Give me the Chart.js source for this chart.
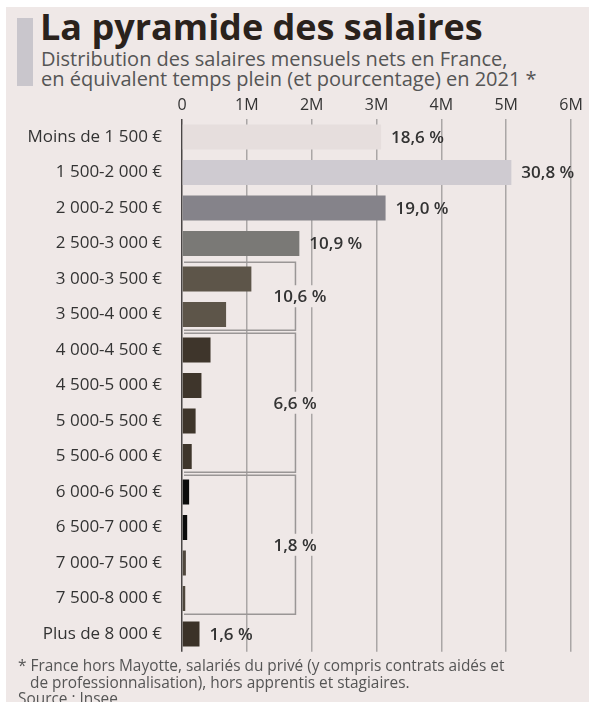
<!DOCTYPE html>
<html lang="fr">
<head>
<meta charset="utf-8">
<script src="https://cdn.jsdelivr.net/npm/chart.js@4.4.1/dist/chart.umd.min.js"></script>
<style>
  html, body { margin: 0; padding: 0; background: #fff; }
  body { width: 589px; height: 702px; position: relative; overflow: hidden; font-family: "Open Sans", sans-serif; }
  #panel { position: absolute; left: 6px; top: 7px; right: 0; bottom: 0; background: #efe8e7; }
  #bar { position: absolute; left: 17px; top: 18px; width: 16px; height: 68px; background: #c9c6cc; }
  #title { position: absolute; left: 40px; top: 7px; margin: 0; font-size: 36px; font-weight: 700; color: #2a221c; line-height: 40px; white-space: nowrap; }
  #subtitle { position: absolute; left: 41px; top: 49px; margin: 0; font-size: 20px; color: #555; line-height: 19.5px; white-space: nowrap; }
  #wrap { position: absolute; left: 0; top: 87px; width: 589px; height: 587px; }
  #note { position: absolute; left: 18px; top: 658px; margin: 0; font-size: 15.4px; line-height: 16.5px; color: #555; white-space: nowrap; }
  #note .ind { padding-left: 12px; }
</style>
</head>
<body>
<div id="panel"></div>
<div id="bar"></div>
<h1 id="title">La pyramide des salaires</h1>
<p id="subtitle">Distribution des salaires mensuels nets en France,<br>en équivalent temps plein (et pourcentage) en 2021 *</p>
<div id="wrap"><canvas id="chart"></canvas></div>
<p id="note">* France hors Mayotte, salariés du privé (y compris contrats aidés et<br><span class="ind">de professionnalisation), hors apprentis et stagiaires.</span><br>Source : Insee</p>

<script>
const categories = [
  'Moins de 1 500 €', '1 500-2 000 €', '2 000-2 500 €', '2 500-3 000 €',
  '3 000-3 500 €', '3 500-4 000 €', '4 000-4 500 €', '4 500-5 000 €',
  '5 000-5 500 €', '5 500-6 000 €', '6 000-6 500 €', '6 500-7 000 €',
  '7 000-7 500 €', '7 500-8 000 €', 'Plus de 8 000 €'
];
// salaried people per bracket
const employees = [
  3070000, 5080000, 3140000, 1810000,
  1070000, 680000, 440000, 300000,
  210000, 150000, 110000, 80000,
  60000, 50000, 270000
];
const barColors = [
  '#e6dedd', '#cfcbd1', '#85838a', '#7a7976',
  '#5d5549', '#5d5549', '#3e352b', '#3e352b',
  '#3e352b', '#3e352b', '#0b0b0b', '#0b0b0b',
  '#4f473d', '#4f473d', '#3b3228'
];
// percentage shown next to single bars
const barLabels = ['18,6 %', '30,8 %', '19,0 %', '10,9 %', null, null, null, null, null, null, null, null, null, null, '1,6 %'];
// bracketed groups of bars
const groupFrom = [4, 6, 10];
const groupTo = [5, 9, 13];
const groupLabels = ['10,6 %', '6,6 %', '1,8 %'];
const groupEdge = 1750000;
const xTicks = [0, 1000000, 2000000, 3000000, 4000000, 5000000, 6000000];

const labelPlugin = {
  id: 'labels',
  afterDatasetsDraw(chart) {
    const ctx = chart.ctx;
    const meta = chart.getDatasetMeta(0);
    const x = chart.scales.x, y = chart.scales.y;
    const band = y.getPixelForValue(1) - y.getPixelForValue(0);
    ctx.save();
    ctx.font = '600 17px "Open Sans"';
    ctx.fillStyle = '#333';
    ctx.textBaseline = 'middle';
    ctx.textAlign = 'left';
    barLabels.forEach((lbl, i) => {
      if (!lbl) return;
      const el = meta.data[i];
      ctx.fillText(lbl, el.x + 10, el.y + 1);
    });

    const left = x.getPixelForValue(0);
    const right = x.getPixelForValue(groupEdge);
    groupLabels.forEach((lbl, g) => {
      const top = y.getPixelForValue(groupFrom[g]) - band / 2 + 1;
      const bottom = y.getPixelForValue(groupTo[g]) + band / 2 - 2;
      ctx.strokeStyle = '#9a9696';
      ctx.lineWidth = 1.5;
      ctx.beginPath();
      ctx.moveTo(left + 2, top);
      ctx.lineTo(right, top);
      ctx.lineTo(right, bottom);
      ctx.lineTo(left + 2, bottom);
      ctx.stroke();
      const w = ctx.measureText(lbl).width;
      const tx = right - 22, ty = (top + bottom) / 2;
      ctx.fillStyle = '#efe8e7';
      ctx.fillRect(tx - 2, ty - 11, w + 4, 22);
      ctx.fillStyle = '#333';
      ctx.fillText(lbl, tx, ty + 1);
    });
    ctx.restore();
  }
};

new Chart(document.getElementById('chart'), {
  type: 'bar',
  data: {
    labels: categories,
    datasets: [{
      data: employees,
      backgroundColor: barColors,
      barPercentage: 0.7,
      categoryPercentage: 1
    }]
  },
  options: {
    indexAxis: 'y',
    responsive: true,
    maintainAspectRatio: false,
    animation: false,
    layout: { padding: { top: 5, right: 18, bottom: 5, left: 0 } },
    plugins: {
      legend: { display: false },
      tooltip: { enabled: false }
    },
    scales: {
      x: {
        position: 'top',
        min: 0,
        max: 6000000,
        afterBuildTicks: scale => { scale.ticks = xTicks.map(v => ({ value: v })); },
        ticks: {
          padding: 4,
          color: '#333',
          font: { family: 'Open Sans', size: 16 },
          callback: v => v === 0 ? '0' : (v / 1000000) + 'M'
        },
        grid: {
          drawTicks: false,
          lineWidth: 1.5,
          color: c => c.tick && c.tick.value === 0 ? '#4a4646' : '#aaa6a6'
        },
        border: { display: false }
      },
      y: {
        afterFit: scale => { scale.width = 182; },
        ticks: {
          padding: 12,
          color: '#333',
          font: { family: 'Open Sans', size: 17 }
        },
        grid: { display: false },
        border: { display: false }
      }
    }
  },
  plugins: [labelPlugin]
});
</script>
</body>
</html>
